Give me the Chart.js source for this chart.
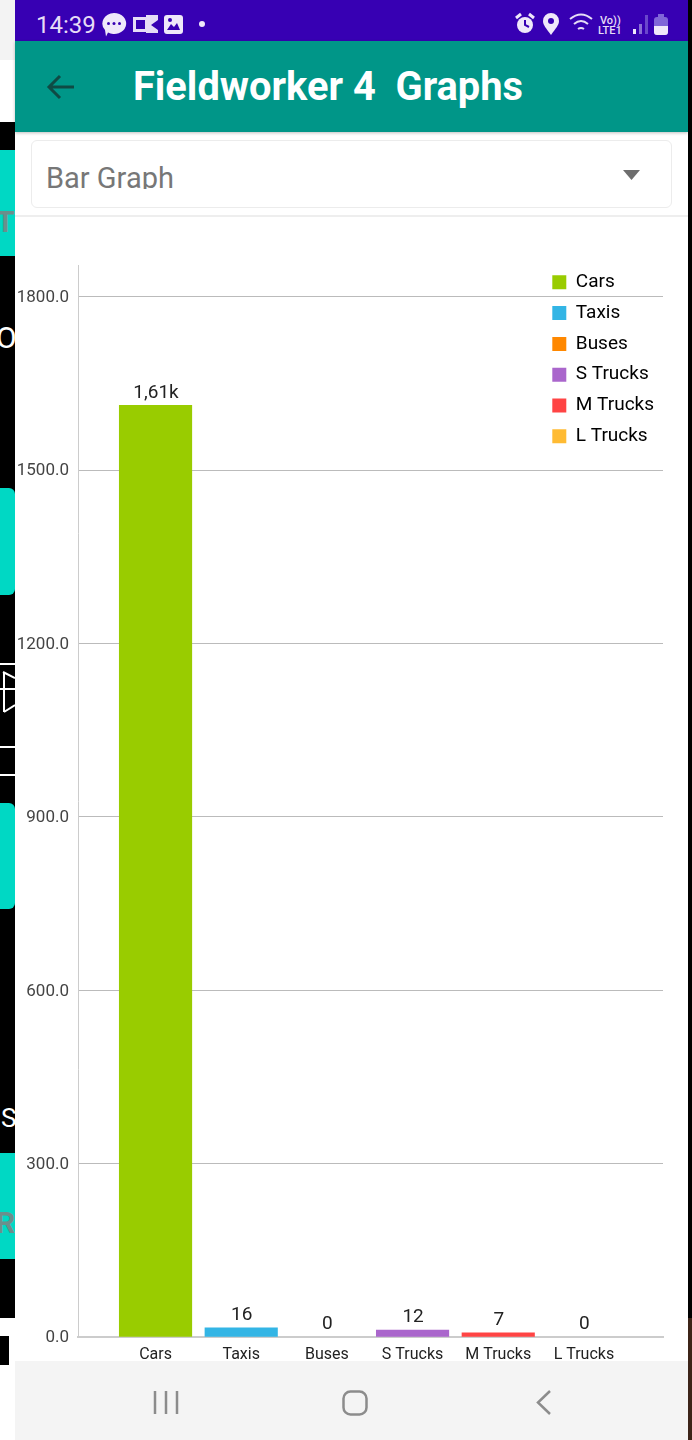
<!DOCTYPE html>
<html>
<head>
<meta charset="utf-8">
<title>Fieldworker 4 Graphs</title>
<script src="https://cdn.jsdelivr.net/npm/chart.js@4"></script>
<style>
    html, body { margin: 0; padding: 0; background: #fff; }
    body { position: relative; width: 692px; height: 1440px; overflow: hidden; font-family: Roboto, sans-serif; }
    .abs { position: absolute; }
    #strip { left: 0; top: 0; width: 15px; height: 1440px; overflow: hidden; background: #fff; }
    #edge { left: 688px; top: 0; width: 4px; height: 1440px; background: #000; }
    .block { position: absolute; left: 0; width: 15px; background: #00d8c4; }
    .rule { position: absolute; left: 0; width: 15px; height: 2px; background: #fff; }
    .cut { position: absolute; font-weight: 700; font-size: 30px; line-height: 30px; color: #6b8f8c; }
    #status { left: 15px; top: 0; width: 673px; height: 41px; background: #3700b3; }
    #time { left: 36px; top: 10px; font-size: 24px; line-height: 30px; color: #e6dcf6; }
    #toolbar { left: 15px; top: 41px; width: 673px; height: 91px; background: #009688; box-shadow: 0 1px 3px rgba(0,0,0,.25); }
    #title { left: 133px; top: 63px; font-size: 39.800px; line-height: 48px; font-weight: 700; color: #fff; white-space: pre; }
    #select { left: 31px; top: 140px; width: 639px; height: 66px; border: 1px solid #ececec; border-radius: 6px; background: #fff; overflow: hidden; }
    #select span { position: absolute; left: 14px; top: 18px; height: 30px; overflow: hidden; font-size: 29px; line-height: 38px; color: #777; }
    #sheet { left: 15px; top: 215px; width: 673px; height: 2px; background: #eeeeee; }
    #nav { left: 15px; top: 1361px; width: 673px; height: 79px; background: #f4f4f4; }
    #chartBox { left: 15px; top: 218px; width: 673px; height: 1143px; }
</style>
</head>
<body>
<div class="abs" id="strip">
    <div class="abs" style="left:0;top:0;width:15px;height:60px;background:#f3f3f3"></div>
    <div class="abs" style="left:0;top:122px;width:15px;height:1196px;background:#000"></div>
    <div class="abs" style="left:0;top:1336px;width:9px;height:29px;background:#000"></div>
    <div class="block" style="top:150px;height:106px"></div>
    <div class="block" style="top:488px;height:107px;border-radius:0 6px 6px 0"></div>
    <div class="block" style="top:803px;height:106px;border-radius:0 6px 6px 0"></div>
    <div class="block" style="top:1153px;height:106px"></div>
    <div class="cut" style="left:-4px;top:207px">TR</div>
    <div class="cut" style="left:-4px;top:323px;color:#fff;font-weight:400">O</div>
    <div class="cut" style="left:1px;top:1103px;color:#fff;font-weight:400;font-size:26px">S</div>
    <div class="cut" style="left:-4px;top:1208px">R</div>
    <div class="rule" style="top:663px"></div>
    <div class="rule" style="top:746px"></div>
    <div class="rule" style="top:774px"></div>
    <svg class="abs" style="left:0;top:668px" width="15" height="50">
        <path d="M3 4 L15 10 M0 21 L15 21 M4 4 L4 44 M4 44 L15 37" stroke="#fff" stroke-width="2" fill="none"/>
    </svg>
</div>
<div class="abs" id="edge"></div>
<div class="abs" style="left:688px;top:1318px;width:4px;height:122px;background:#3c2418"></div>

<div class="abs" id="status"></div>
<div class="abs" id="time">14:39</div>
<svg class="abs" style="left:98px;top:10px" width="120" height="28">
    <path d="M16 3 a12 10.500 0 1 1 -6 19.500 l-2 4 l-1 -6.500 a12 10.500 0 0 1 9 -17z" fill="#efe8fa"/>
    <circle cx="10.500" cy="13.500" r="1.500" fill="#3700b3"/><circle cx="16" cy="13.500" r="1.500" fill="#3700b3"/><circle cx="21.500" cy="13.500" r="1.500" fill="#3700b3"/>
    <rect x="35" y="7" width="15" height="15" fill="#e6dcf6"/><rect x="38" y="10" width="9" height="9" fill="#3700b3"/>
    <path d="M48 5 h12 v5 l-7 5 l7 5 v3 h-12z" fill="#e6dcf6"/>
    <rect x="66" y="5" width="19" height="19" rx="3" fill="#efe8fa"/>
    <path d="M69 20 l4 -6 l3 3 l3 -4 l3 7z" fill="#3700b3"/><circle cx="72" cy="10" r="2" fill="#3700b3"/>
    <circle cx="104" cy="14" r="3" fill="#efe8fa"/>
</svg>
<svg class="abs" style="left:512px;top:10px" width="165" height="28">
    <circle cx="13" cy="15" r="8" fill="#efe8fa"/><path d="M13 10 v5 l4 2" stroke="#3700b3" stroke-width="2" fill="none"/>
    <path d="M4 8 l5 -4 M22 8 l-5 -4" stroke="#efe8fa" stroke-width="3"/>
    <path d="M39 25 c-5 -7 -8 -10 -8 -14 a8 8 0 0 1 16 0 c0 4 -3 7 -8 14z" fill="#efe8fa"/><circle cx="39" cy="11" r="3" fill="#3700b3"/>
    <path d="M58 9 q11 -9 22 0 M62 14 q7 -6 14 0 M66 19 q3 -2 6 0" stroke="#e6dcf6" stroke-width="2" fill="none"/>
    <rect x="121" y="19" width="3" height="5" fill="#efe8fa"/><rect x="127" y="14" width="3" height="10" fill="#8a6fd6"/><rect x="133" y="5" width="3" height="19" fill="#6a47cc"/>
    <rect x="142" y="7" width="14" height="18" rx="3" fill="#8066d8"/><rect x="146" y="4" width="6" height="3" fill="#8066d8"/>
    <path d="M142 16 h14 v6 a3 3 0 0 1 -3 3 h-8 a3 3 0 0 1 -3 -3z" fill="#efe8fa"/>
</svg>
<div class="abs" style="left:600px;top:15px;font-size:11px;line-height:11px;color:#e6dcf6;font-weight:500">Vo))</div>
<div class="abs" style="left:598px;top:25px;font-size:11px;line-height:11px;color:#e6dcf6;font-weight:500">LTE1</div>

<div class="abs" id="toolbar"></div>
<svg class="abs" style="left:44px;top:70px" width="34" height="34">
    <path d="M30 17 H6 M16 6 L5 17 L16 28" stroke="#0f4a44" stroke-width="3" fill="none"/>
</svg>
<div class="abs" id="title">Fieldworker 4  Graphs</div>
<div class="abs" id="select"><span>Bar Graph</span></div>
<svg class="abs" style="left:620px;top:166px" width="22" height="16"><path d="M3 4 H20 L11.500 14z" fill="#6e6e6e"/></svg>
<div class="abs" id="sheet"></div>

<div class="abs" id="chartBox"><canvas id="fieldChart" width="673" height="1143"></canvas></div>

<div class="abs" id="nav"></div>
<svg class="abs" style="left:140px;top:1380px" width="430" height="44">
    <path d="M15 11 V34 M26 11 V34 M37 11 V34" stroke="#8c8c8c" stroke-width="2.500"/>
    <rect x="203.500" y="11.500" width="23" height="23" rx="7" stroke="#8c8c8c" stroke-width="2.500" fill="none"/>
    <path d="M410 11 L398 22.500 L410 34" stroke="#8c8c8c" stroke-width="2.500" fill="none"/>
</svg>

<script>
const categories = ['Cars', 'Taxis', 'Buses', 'S Trucks', 'M Trucks', 'L Trucks'];
const values = [1612, 16, 0, 12, 7, 0];
const valueLabels = ['1,61k', '16', '0', '12', '7', '0'];
const barColors = ['#99cc00', '#33b5e5', '#ff8800', '#aa66cc', '#ff4444', '#ffbb33'];
const yTicks = [0, 300, 600, 900, 1200, 1500, 1800];

// value labels over the bars
const barLabels = {
    id: 'barLabels',
    afterDatasetsDraw(chart) {
        const ctx = chart.ctx;
        ctx.save();
        ctx.font = '19px Roboto';
        ctx.fillStyle = '#222';
        ctx.textAlign = 'center';
        ctx.textBaseline = 'bottom';
        chart.getDatasetMeta(0).data.forEach((bar, i) => {
            ctx.fillText(valueLabels[i], bar.x + 0.5, bar.y - 3);
        });
        ctx.restore();
    }
};

// the legend sits top right inside the plot
const moveLegend = {
    id: 'moveLegend',
    beforeDraw(chart) {
        chart.legend.left = 525.5;
        chart.legend.top = 43;
    }
};

new Chart(document.getElementById('fieldChart'), {
    type: 'bar',
    data: {
        datasets: [{
            data: categories.map((name, i) => ({ x: i, y: values[i] })),
            // bars with no height stay invisible
            backgroundColor: values.map((v, i) => v > 0 ? barColors[i] : 'transparent'),
            barThickness: 72.5
        }]
    },
    options: {
        responsive: false,
        animation: false,
        layout: { padding: { top: 47, right: 25, left: 0, bottom: 0 } },
        plugins: {
            tooltip: { enabled: false },
            legend: {
                position: 'chartArea',
                align: 'start',
                labels: {
                    boxWidth: 14,
                    boxHeight: 14,
                    padding: 11.8,
                    color: '#333',
                    font: { family: 'Roboto', size: 19 },
                    generateLabels: () => categories.map((name, i) => ({
                        text: name,
                        fillStyle: barColors[i],
                        strokeStyle: barColors[i],
                        lineWidth: 0,
                        index: i
                    }))
                }
            }
        },
        scales: {
            x: {
                type: 'linear',
                offset: false,
                min: -0.905,
                max: 5.923,
                afterFit: scale => { scale.height = 24; },
                grid: { display: false, drawTicks: false },
                border: { color: '#cccccc', width: 2 },
                ticks: {
                    stepSize: 1,
                    includeBounds: false,
                    autoSkip: false,
                    maxRotation: 0,
                    padding: 8,
                    color: '#222',
                    font: { family: 'Roboto', size: 16 },
                    callback: value => categories[value]
                }
            },
            y: {
                min: 0,
                max: 1855,
                afterFit: scale => { scale.width = 63; },
                afterBuildTicks: scale => { scale.ticks = yTicks.map(v => ({ value: v })); },
                grid: { color: '#bbbbbb', drawTicks: false },
                border: { color: '#cccccc', width: 1 },
                ticks: {
                    padding: 9,
                    labelOffset: 1,
                    color: '#444',
                    font: { family: 'Roboto', size: 17 },
                    callback: value => value.toFixed(1)
                }
            }
        }
    },
    plugins: [barLabels, moveLegend]
});
</script>
</body>
</html>
